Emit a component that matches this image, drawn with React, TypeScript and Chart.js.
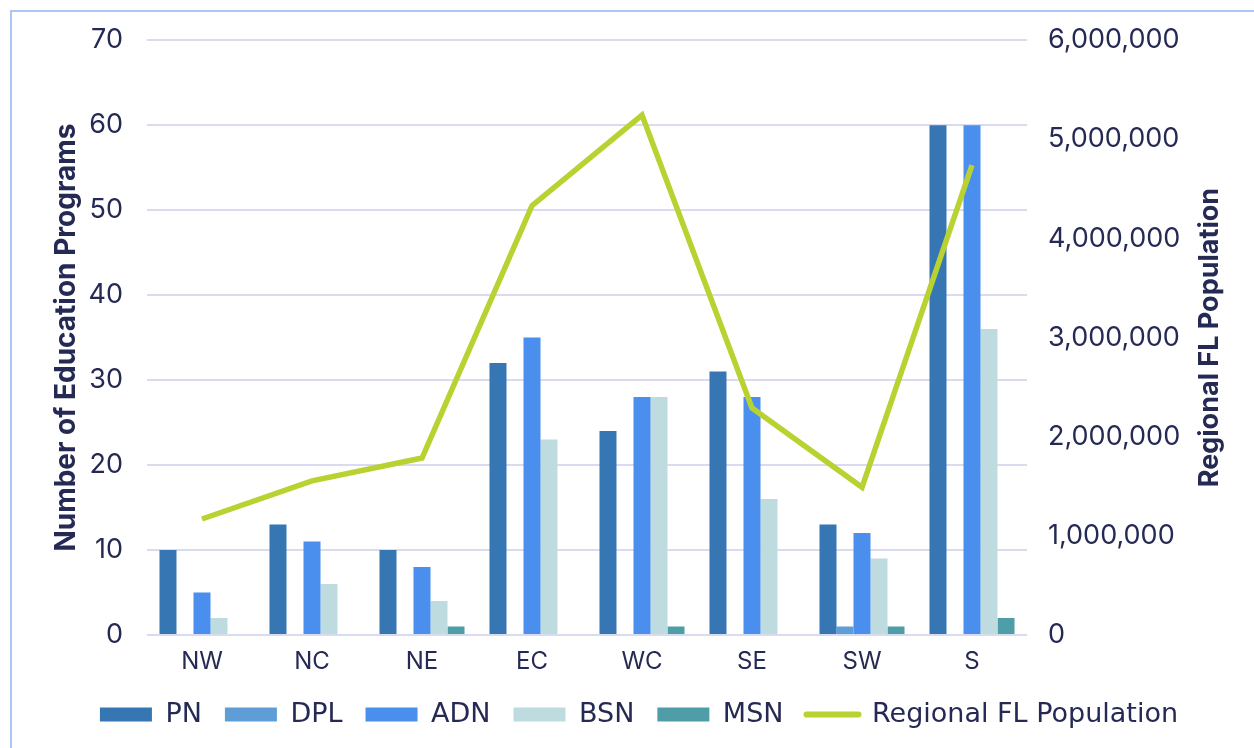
import React, { useEffect, useRef } from "react";
import { Chart, registerables } from "chart.js";

Chart.register(...registerables);

const regions = ["NW", "NC", "NE", "EC", "WC", "SE", "SW", "S"];
const pnValues = [10, 13, 10, 32, 24, 31, 13, 60];
const dplValues = [0, 0, 0, 0, 0, 0, 1, 0];
const adnValues = [5, 11, 8, 35, 28, 28, 12, 60];
const bsnValues = [2, 6, 4, 23, 28, 16, 9, 36];
const msnValues = [0, 0, 1, 0, 1, 0, 1, 2];
const populationValues = [1170000, 1555000, 1785000, 4330000, 5245000, 2290000, 1490000, 4740000];

const leftTicksMax = 70;
const rightTicksMax = 6000000;
const leftTitle = "Number of Education Programs";
const rightTitle = "Regional FL Population";

const TEXT = "#252a55";
const GRID = "#d9dbf0";
const TICK_FONT = "Inter, 'Open Sans', sans-serif";

const barSeries = [
  { label: "PN", data: pnValues, color: "#3677b3" },
  { label: "DPL", data: dplValues, color: "#5f9dd6" },
  { label: "ADN", data: adnValues, color: "#4a8eee" },
  { label: "BSN", data: bsnValues, color: "#bedbe0" },
  { label: "MSN", data: msnValues, color: "#4f9ea7" },
];
const lineColor = "#b9d232";

export default function App() {
  const ref = useRef<HTMLCanvasElement | null>(null);

  useEffect(() => {
    if (!ref.current) return;
    const rightTitlePlugin = {
      id: "rightTitle",
      afterLayout(chart: any) {
        if (chart.legend) {
          chart.legend.left += 12;
          chart.legend.right += 12;
        }
      },
      afterDraw(chart: any) {
        const { ctx, chartArea } = chart;
        ctx.save();
        ctx.translate(1210, (chartArea.top + chartArea.bottom) / 2);
        ctx.rotate(-Math.PI / 2);
        ctx.font = "bold 27px " + TICK_FONT;
        ctx.fillStyle = TEXT;
        ctx.textAlign = "center";
        ctx.textBaseline = "middle";
        ctx.fillText(rightTitle, 0, 0);
        ctx.restore();
      },
    };

    const chart = new Chart(ref.current, {
      type: "bar",
      data: {
        labels: regions,
        datasets: [
          ...barSeries.map((s) => ({
            type: "bar" as const,
            label: s.label,
            data: s.data,
            backgroundColor: s.color,
            borderWidth: 0,
            yAxisID: "y",
            order: 1,
            categoryPercentage: 0.773,
            barPercentage: 1,
          })),
          {
            type: "line" as const,
            label: rightTitle,
            data: populationValues,
            borderColor: lineColor,
            backgroundColor: lineColor,
            borderWidth: 5.5,
            pointRadius: 0,
            tension: 0,
            yAxisID: "y1",
            order: 0,
          },
        ],
      } as any,
      options: {
        animation: false,
        responsive: false,
        maintainAspectRatio: false,
        layout: { padding: { left: 0, right: 0, top: 40, bottom: 10 } },
        plugins: {
          title: { display: false },
          tooltip: { enabled: false },
          legend: {
            display: true,
            position: "bottom",
            labels: {
              color: TEXT,
              font: { family: "'DejaVu Sans', sans-serif", size: 27 },
              usePointStyle: true,
              pointStyleWidth: 52,
              boxHeight: 14,
              padding: 23,
              generateLabels: (c: any) =>
                c.data.datasets.map((d: any, i: number) => {
                  const isLine = d.type === "line";
                  return {
                    text: d.label,
                    fillStyle: isLine ? lineColor : d.backgroundColor,
                    strokeStyle: isLine ? lineColor : d.backgroundColor,
                    lineWidth: isLine ? 6 : 0,
                    pointStyle: isLine ? "line" : "rect",
                    lineCap: "round",
                    fontColor: TEXT,
                    hidden: false,
                    datasetIndex: i,
                  };
                }),
            },
          },
        },
        scales: {
          x: {
            grid: { display: false, drawTicks: false },
            border: { display: false },
            ticks: {
              color: TEXT,
              font: { family: TICK_FONT, size: 24 },
              padding: 12,
            },
            afterFit: (s: any) => {
              s.height = 43;
            },
          },
          y: {
            position: "left",
            min: 0,
            max: leftTicksMax,
            grid: { color: GRID, lineWidth: 2, drawTicks: false },
            border: { display: false },
            ticks: {
              stepSize: 10,
              color: TEXT,
              font: { family: TICK_FONT, size: 27 },
              padding: 24,
            },
            title: {
              display: true,
              text: leftTitle,
              color: TEXT,
              font: { family: TICK_FONT, size: 28, weight: "bold" },
              padding: { top: 50, bottom: 0 },
            },
            afterFit: (s: any) => {
              s.width = 147;
            },
          },
          y1: {
            position: "right",
            min: 0,
            max: rightTicksMax,
            grid: { display: false, drawTicks: false },
            border: { display: false },
            ticks: {
              stepSize: 1000000,
              color: TEXT,
              font: { family: TICK_FONT, size: 27 },
              padding: 21,
              callback: (v: any) => Number(v).toLocaleString("en-US"),
            },
            afterFit: (s: any) => {
              s.width = 227;
            },
          },
        },
      },
      plugins: [rightTitlePlugin],
    } as any);
    return () => chart.destroy();
  }, []);

  return (
    <div style={{ position: "fixed", left: 0, top: 0, width: 1254, height: 748, overflow: "hidden", background: "#fff" }}>
      <div
        style={{
          position: "absolute",
          left: 10,
          top: 10,
          width: 1300,
          height: 800,
          border: "2px solid #a9c9f4",
          boxSizing: "border-box",
        }}
      />
      <canvas ref={ref} width={1254} height={748} style={{ position: "absolute", left: 0, top: 0, width: 1254, height: 748 }} />
    </div>
  );
}
